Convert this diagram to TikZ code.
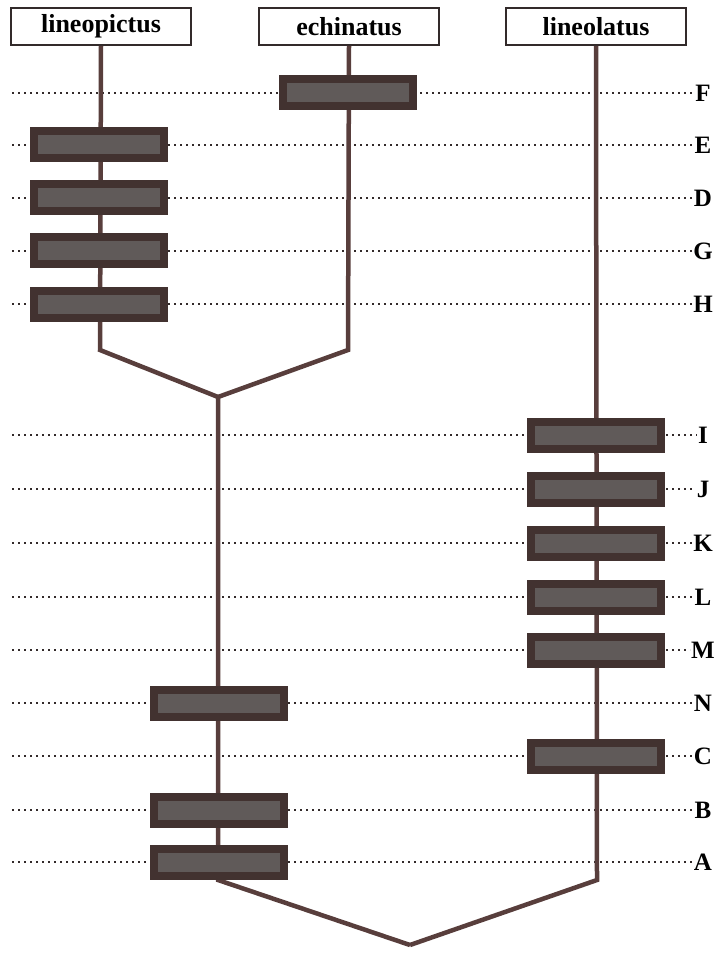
\documentclass[tikz,border=0pt]{standalone}
\usepackage{fontspec}
\setmainfont{Liberation Serif}
\definecolor{branchbrown}{RGB}{88, 62, 60}
\definecolor{barouter}{RGB}{66, 50, 48}
\definecolor{barinner}{RGB}{96, 90, 89}
\definecolor{dotgrey}{RGB}{50, 42, 42}
\usetikzlibrary{positioning}

\begin{document}
\begin{tikzpicture}[x=1pt, y=-1pt,
    taxon/.style={draw=dotgrey, fill=white, line width=1.6pt, minimum width=180pt, minimum height=37pt, inner sep=0pt, font=\fontsize{26}{30}\selectfont\bfseries},
    branch/.style={draw=branchbrown, line width=4.5pt, line join=miter},
    trait/.style={draw=barouter, fill=barinner, line width=8pt, minimum width=130pt, minimum height=27pt, inner sep=0pt},
    row/.style={draw=dotgrey, line width=2pt, dash pattern=on 2pt off 4pt},
    rowlabel/.style={font=\fontsize{25}{28}\selectfont\bfseries, inner sep=1pt}]
  \useasboundingbox (0,0) rectangle (718,965);

  % Taxon boxes
  \node (lineopictus) [taxon] at (101, 26.5) {lineopictus};
  \node (echinatus) [taxon] at (349, 26.5) {echinatus};
  \node (lineolatus) [taxon] at (596, 26.5) {lineolatus};

  % Character rows
  \foreach \name/\ypos in {F/93, E/145, D/198, G/251, H/304, I/435, J/489, K/543, L/597, M/650, N/703, C/756, B/810, A/862} {
    \node (lab\name) [rowlabel] at (703, \ypos) {\name};
    \coordinate (start\name) at (12, \ypos);
    \draw[row] (start\name) -- (lab\name.west);
  }

  % Tree
  \coordinate (kinkL) at (100, 350);
  \coordinate (kinkR) at (348, 350);
  \coordinate (joinUp) at (218, 397);
  \coordinate (kinkC) at (218, 880);
  \coordinate (kinkO) at (597, 880);
  \coordinate (root) at (410, 945);

  \draw[branch] (lineopictus.south) -- (kinkL) -- (joinUp);
  \draw[branch] (echinatus.south) -- (kinkR) -- (joinUp);
  \draw[branch] (joinUp) -- (kinkC) -- (root);
  \draw[branch] (lineolatus.south) -- (kinkO) -- (root);

  % Character bars
  \node (barF) [trait] at (348, 93) {};
  \node (barE) [trait] at (99, 145) {};
  \node (barD) [trait] at (99, 198) {};
  \node (barG) [trait] at (99, 251) {};
  \node (barH) [trait] at (99, 304) {};
  \node (barI) [trait] at (596, 435) {};
  \node (barJ) [trait] at (596, 489) {};
  \node (barK) [trait] at (596, 543) {};
  \node (barL) [trait] at (596, 597) {};
  \node (barM) [trait] at (596, 650) {};
  \node (barN) [trait] at (219, 703) {};
  \node (barC) [trait] at (596, 756) {};
  \node (barB) [trait] at (219, 810) {};
  \node (barA) [trait] at (219, 862) {};

\end{tikzpicture}
\end{document}
